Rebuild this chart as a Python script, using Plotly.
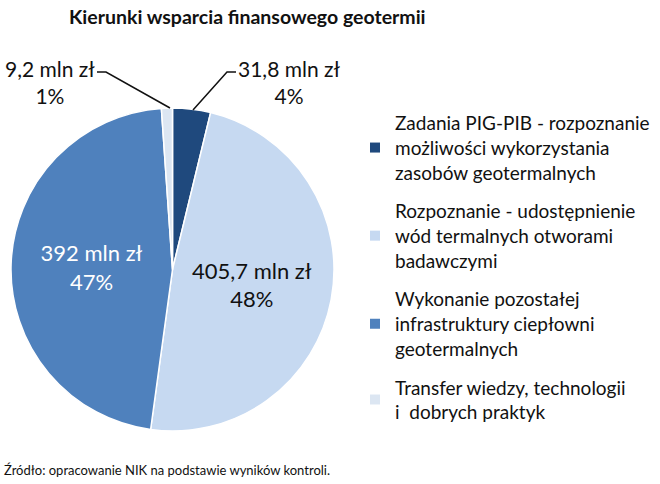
import plotly.graph_objects as go

categories = [
    "Zadania PIG-PIB - rozpoznanie<br>możliwości wykorzystania<br>zasobów geotermalnych",
    "Rozpoznanie - udostępnienie<br>wód termalnych otworami<br>badawczymi",
    "Wykonanie pozostałej<br>infrastruktury ciepłowni<br>geotermalnych",
    "Transfer wiedzy, technologii<br>i  dobrych praktyk",
]
values = [31.8, 405.7, 392.0, 9.2]
colors = ["#1F497D", "#C6D9F1", "#4F81BD", "#DCE6F2"]

W, H = 660, 484
FONT = "Lato"


def px(x, y):
    return x / W, 1 - y / H


total = sum(values)


def fmt(v):
    s = ("%.1f" % v).rstrip("0").rstrip(".")
    return s.replace(".", ",")


fig = go.Figure()
fig.add_trace(go.Pie(
    labels=categories,
    values=values,
    sort=False,
    direction="clockwise",
    rotation=0,
    showlegend=False,
    marker=dict(colors=colors, line=dict(color="white", width=1.5)),
    texttemplate=["", "%{value} mln zł<br>%{percent:.0%}", "%{value} mln zł<br>%{percent:.0%}", ""],
    textposition=["none", "inside", "inside", "none"],
    insidetextorientation="horizontal",
    textfont=dict(family=FONT, size=22, color=["#000", "#111111", "#ffffff", "#000"]),
    domain=dict(x=[9 / W, 336 / W], y=[1 - 431 / H, 1 - 108 / H]),
    hoverinfo="label+value+percent",
))

# legend entries (one per category, same colours as slices)
for i, (cat, col) in enumerate(zip(categories, colors)):
    fig.add_trace(go.Scatter(
        x=[None], y=[None], mode="markers", name=cat,
        marker=dict(symbol="square", size=10, color=col),
        legendgroup=f"g{i}", showlegend=True, hoverinfo="skip",
    ))

ann = []
x0, y0 = px(50, 82)
ann.append(dict(x=x0, y=y0, xref="paper", yref="paper", showarrow=False,
                xanchor="center", yanchor="middle",
                text=f"{fmt(values[3])} mln zł<br>{round(values[3] / total * 100)}%",
                font=dict(family=FONT, size=21, color="#111"), align="center"))
x1, y1 = px(289, 82)
ann.append(dict(x=x1, y=y1, xref="paper", yref="paper", showarrow=False,
                xanchor="center", yanchor="middle",
                text=f"{fmt(values[0])} mln zł<br>{round(values[0] / total * 100)}%",
                font=dict(family=FONT, size=21, color="#111"), align="center"))
tx, ty = px(247, 16)
ann.append(dict(x=tx, y=ty, xref="paper", yref="paper", showarrow=False,
                xanchor="center", yanchor="middle",
                text="<b>Kierunki wsparcia finansowego geotermii</b>",
                font=dict(family=FONT, size=19.5, color="#111")))
sx, sy = px(2, 470)
ann.append(dict(x=sx, y=sy, xref="paper", yref="paper", showarrow=False,
                xanchor="left", yanchor="middle",
                text="Źródło: opracowanie NIK na podstawie wyników kontroli.",
                font=dict(family=FONT, size=13, color="#111")))


def path(points):
    d = ""
    for i, (x, y) in enumerate(points):
        X, Y = px(x, y)
        d += ("M" if i == 0 else "L") + f"{X},{Y} "
    return d


shapes = [
    dict(type="path", xref="paper", yref="paper", path=path([(97, 72), (106, 72), (170, 108)]),
         line=dict(color="#111", width=1.5)),
    dict(type="path", xref="paper", yref="paper", path=path([(236, 72), (227, 72), (193, 110)]),
         line=dict(color="#111", width=1.5)),
]

fig.update_layout(
    width=W, height=H,
    margin=dict(l=0, r=0, t=0, b=0),
    paper_bgcolor="white",
    plot_bgcolor="white",
    separators=", ",
    showlegend=True,
    xaxis=dict(visible=False, domain=[0.99, 1]),
    yaxis=dict(visible=False, domain=[0.99, 1]),
    legend=dict(x=355 / W, y=1 - 104 / H, xanchor="left", yanchor="top",
                font=dict(family=FONT, size=19, color="#111"),
                itemwidth=30, tracegroupgap=11, bgcolor="rgba(0,0,0,0)"),
    annotations=ann,
    shapes=shapes,
)

fig.write_html("out.html")
